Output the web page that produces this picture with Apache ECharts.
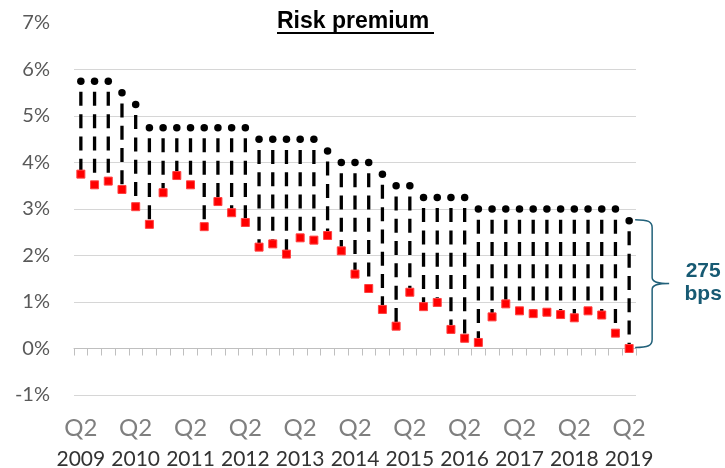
<!DOCTYPE html>
<html>
<head>
<meta charset="utf-8">
<script src="https://cdn.jsdelivr.net/npm/echarts@6/dist/echarts.min.js"></script>
<style>
  html, body { margin: 0; padding: 0; background: #fff; }
  #chart { width: 725px; height: 468px; }
</style>
</head>
<body>
<div id="chart"></div>
<script>
// Quarterly observations, Q2 2009 – Q2 2019
const quarters = [
  '2009 Q2', '2009 Q3', '2009 Q4', '2010 Q1', '2010 Q2', '2010 Q3', '2010 Q4',
  '2011 Q1', '2011 Q2', '2011 Q3', '2011 Q4', '2012 Q1', '2012 Q2', '2012 Q3',
  '2012 Q4', '2013 Q1', '2013 Q2', '2013 Q3', '2013 Q4', '2014 Q1', '2014 Q2',
  '2014 Q3', '2014 Q4', '2015 Q1', '2015 Q2', '2015 Q3', '2015 Q4', '2016 Q1',
  '2016 Q2', '2016 Q3', '2016 Q4', '2017 Q1', '2017 Q2', '2017 Q3', '2017 Q4',
  '2018 Q1', '2018 Q2', '2018 Q3', '2018 Q4', '2019 Q1', '2019 Q2'
];

// Upper level (%), black pins
const upperRate = [
  5.75, 5.75, 5.75, 5.5, 5.25, 4.75, 4.75, 4.75, 4.75, 4.75, 4.75, 4.75, 4.75,
  4.5, 4.5, 4.5, 4.5, 4.5, 4.25, 4.0, 4.0, 4.0, 3.75, 3.5, 3.5,
  3.25, 3.25, 3.25, 3.25, 3.0, 3.0, 3.0, 3.0, 3.0, 3.0, 3.0, 3.0, 3.0, 3.0, 3.0,
  2.75
];

// Lower level (%), red squares
const lowerRate = [
  3.75, 3.52, 3.60, 3.42, 3.05, 2.67, 3.35, 3.72, 3.52, 2.62, 3.16, 2.92, 2.71,
  2.18, 2.25, 2.03, 2.38, 2.33, 2.43, 2.10, 1.60, 1.29, 0.84, 0.48, 1.21,
  0.90, 0.99, 0.41, 0.22, 0.13, 0.68, 0.96, 0.81, 0.75, 0.78, 0.73, 0.66, 0.81,
  0.72, 0.33, 0.00
];

// Axis tick labels
const yTicks = [-1, 0, 1, 2, 3, 4, 5, 6, 7];
const titleText = 'Risk premium';

const axisFont = 'Lato';
const squareSize = 8;
const last = quarters.length - 1;
const spreadBps = Math.round((upperRate[last] - lowerRate[last]) * 100);

const chart = echarts.init(document.getElementById('chart'), null, { renderer: 'canvas' });

chart.setOption({
  animation: false,
  backgroundColor: '#ffffff',
  title: {
    text: titleText,
    left: 277,
    top: 10,
    padding: 0,
    textStyle: {
      fontFamily: 'Liberation Sans',
      fontWeight: 'bold',
      fontSize: 23,
      color: '#000'
    }
  },
  graphic: [{
    type: 'rect',
    left: 277,
    top: 32,
    shape: { width: 157, height: 2 },
    style: { fill: '#000' }
  }],
  grid: {
    left: 74, right: 89, top: 23, bottom: 73,
    containLabel: false,
    outerBoundsMode: 'none'
  },
  xAxis: {
    type: 'category',
    data: quarters,
    boundaryGap: true,
    axisLine: { onZero: true, lineStyle: { color: '#bfbfbf', width: 1 } },
    axisTick: { show: true, interval: 0, length: 7, lineStyle: { color: '#bfbfbf' } },
    splitLine: { show: false },
    axisLabel: {
      interval: 3,
      margin: 18,
      formatter: function (v) {
        const parts = v.split(' ');
        return '{q|' + parts[1] + '}\n{y|' + parts[0] + '}';
      },
      rich: {
        q: { fontFamily: axisFont, fontSize: 24, lineHeight: 30, color: '#7f7f7f' },
        y: { fontFamily: axisFont, fontSize: 21, lineHeight: 32, color: '#333333' }
      }
    }
  },
  yAxis: {
    type: 'value',
    min: yTicks[0],
    max: yTicks[yTicks.length - 1],
    interval: 1,
    axisLine: { show: false },
    axisTick: { show: false },
    splitLine: {
      show: true,
      showMaxLine: false,
      lineStyle: { color: '#d6d6d6', width: 1 }
    },
    axisLabel: {
      margin: 24,
      fontFamily: axisFont,
      fontSize: 20,
      color: '#595959',
      formatter: '{value}%'
    }
  },
  series: [
    {
      // dashed stems joining upper and lower levels, ending at each square's top edge
      type: 'custom',
      z: 1,
      data: quarters.map((q, i) => [i, upperRate[i], lowerRate[i]]),
      renderItem: function (params, api) {
        const i = api.value(0);
        const t = api.coord([i, api.value(1)]);
        const b = api.coord([i, api.value(2)]);
        return {
          type: 'line',
          shape: { x1: t[0], y1: t[1], x2: b[0], y2: b[1] - squareSize / 2 },
          style: {
            stroke: '#000',
            lineWidth: 3.3,
            lineDash: [14, 8.3],
            lineDashOffset: 11.6
          }
        };
      }
    },
    {
      type: 'scatter',
      z: 8,
      symbol: 'circle',
      symbolSize: 7.5,
      itemStyle: { color: '#000', opacity: 1 },
      data: quarters.map((q, i) => [q, upperRate[i]])
    },
    {
      type: 'scatter',
      z: 10,
      symbol: 'rect',
      symbolSize: squareSize,
      itemStyle: { color: '#ff0000', borderColor: '#ff4040', borderWidth: 1, opacity: 1 },
      data: quarters.map((q, i) => [q, lowerRate[i]])
    },
    {
      // brace marking the latest spread
      type: 'custom',
      z: 5,
      clip: false,
      data: [[last, upperRate[last], lowerRate[last]]],
      renderItem: function (params, api) {
        const i = api.value(0);
        const t = api.coord([i, api.value(1)]);
        const b = api.coord([i, api.value(2)]);
        const x0 = t[0] + 6, xv = t[0] + 23, xt = t[0] + 40;
        const yt = t[1] - 1, yb = b[1] - 1, ym = (yt + yb) / 2;
        const d = [
          'M', x0, yt,
          'C', xv - 4, yt, xv, yt + 2, xv, yt + 8,
          'L', xv, ym - 6,
          'C', xv, ym - 2, xv + 4, ym, xt, ym,
          'C', xv + 4, ym, xv, ym + 2, xv, ym + 6,
          'L', xv, yb - 8,
          'C', xv, yb - 2, xv - 4, yb, x0, yb
        ].join(' ');
        return {
          type: 'group',
          children: [
            {
              type: 'path',
              shape: { pathData: d },
              style: { fill: 'none', stroke: '#22617a', lineWidth: 1.5 }
            },
            {
              type: 'text',
              style: {
                text: spreadBps + '\nbps',
                x: xt + 34,
                y: ym - 1,
                align: 'center',
                verticalAlign: 'middle',
                fontFamily: 'Liberation Sans',
                fontWeight: 'bold',
                fontSize: 21,
                lineHeight: 23,
                fill: '#175a73'
              }
            }
          ]
        };
      }
    }
  ]
});
</script>
</body>
</html>
